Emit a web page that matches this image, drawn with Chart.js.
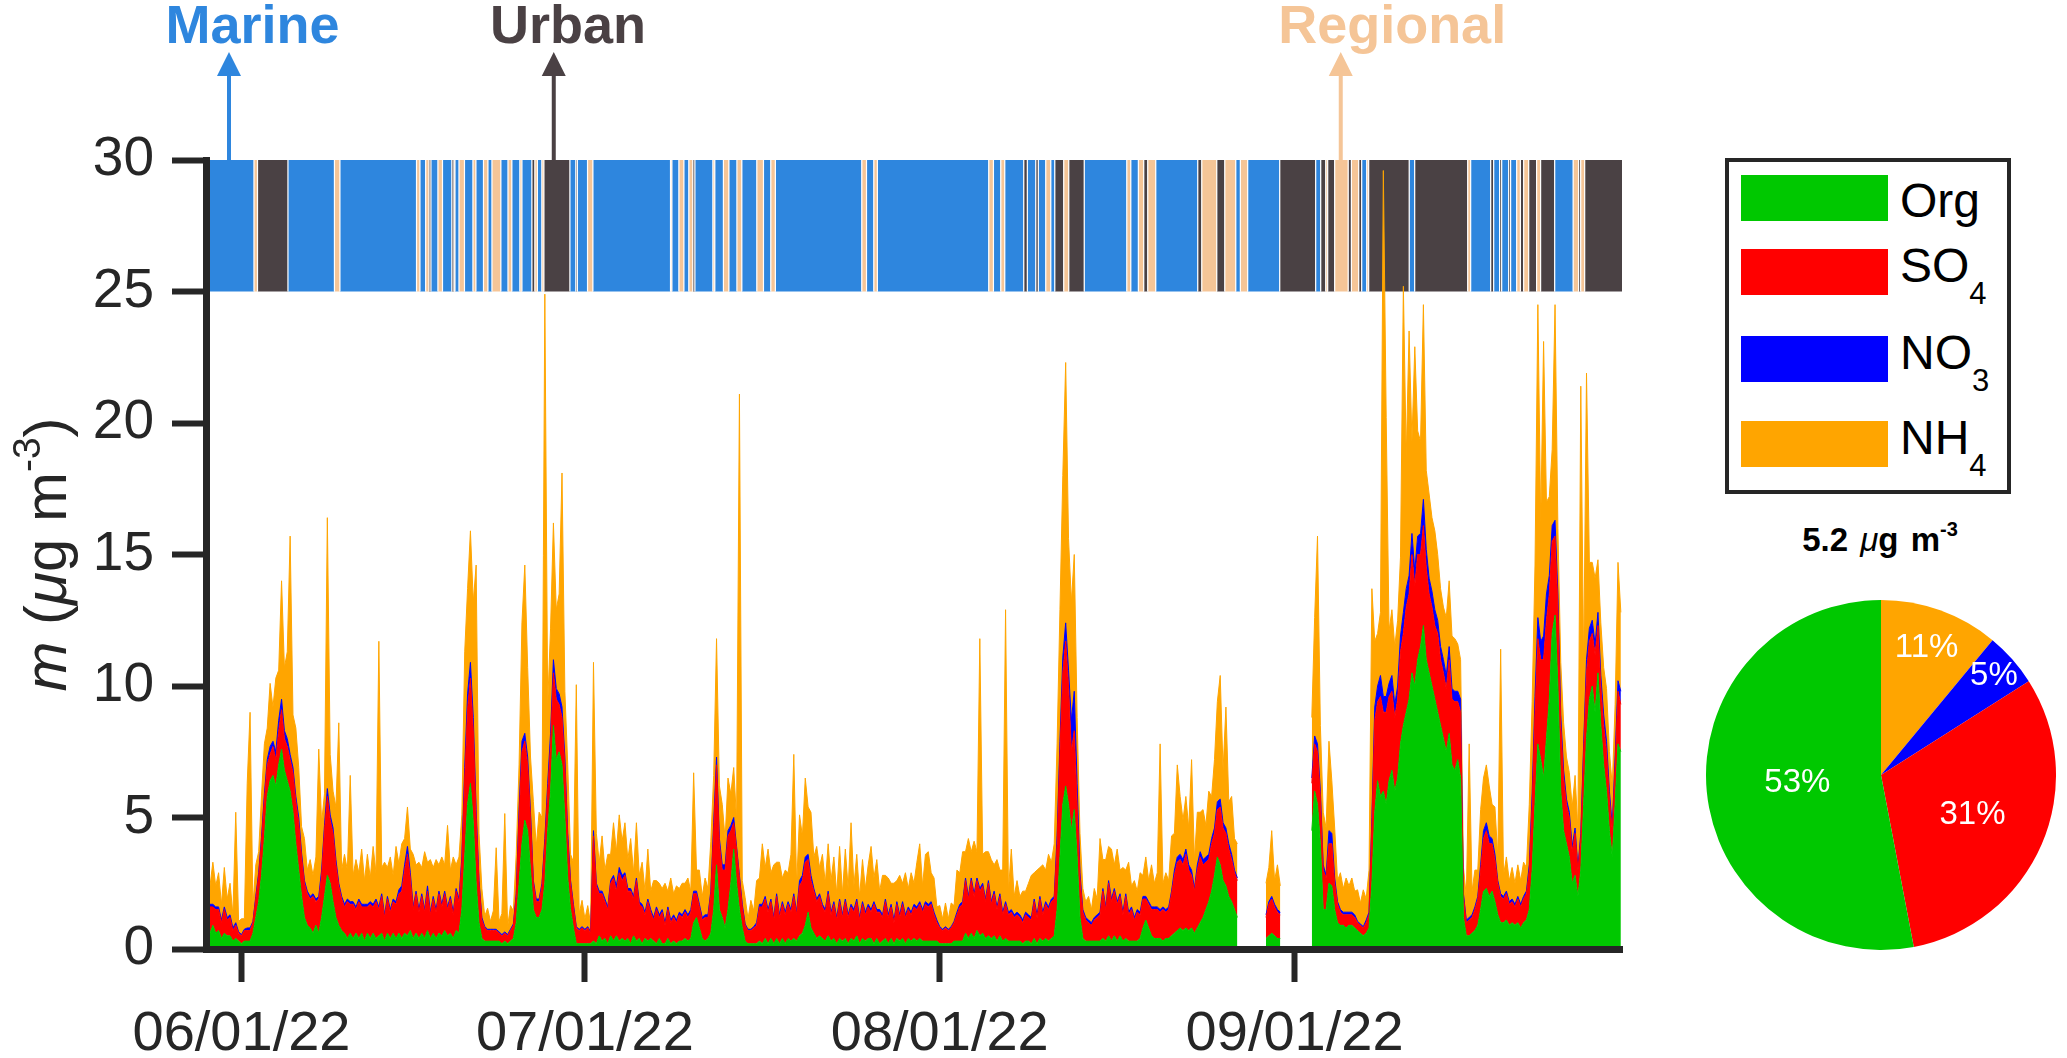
<!DOCTYPE html>
<html>
<head>
<meta charset="utf-8">
<title>Aerosol mass time series</title>
<script src="https://cdn.jsdelivr.net/npm/chart.js@4.4.0/dist/chart.umd.min.js"></script>
<style>
    body { margin: 0; background: #fff; font-family: "Liberation Sans", Arial, sans-serif; }
    #page { position: relative; width: 2067px; height: 1058px; overflow: hidden; background: #fff; }
    #mainWrap { position: absolute; left: 0; top: 0; width: 1680px; height: 1058px; }
    #pieWrap { position: absolute; left: 1706px; top: 600px; width: 350px; height: 350px; }
    #legend { position: absolute; left: 1725px; top: 158px; width: 286px; height: 336px;
              border: 4px solid #262626; box-sizing: border-box; }
    .sw { position: absolute; left: 12px; width: 147px; height: 46px; }
    .lb { position: absolute; left: 171px; font-size: 48px; line-height: 1; color: #000; white-space: nowrap; }
    .lb sub { font-size: 31px; vertical-align: -22px; line-height: 0; }
    #pieTitle { position: absolute; left: 1730px; width: 300px; top: 523px; text-align: center;
                font-weight: bold; font-size: 33px; line-height: 1; color: #000; word-spacing: 3px; }
    #pieTitle i { font-weight: normal; }
    #pieTitle sup { font-size: 20px; vertical-align: 15px; line-height: 0; }
</style>
</head>
<body>
<div id="page">
    <div id="mainWrap"><canvas id="mainChart" width="1680" height="1058"></canvas></div>
    <div id="legend"></div>
    <div id="pieTitle"></div>
    <div id="pieWrap"><canvas id="pieChart" width="350" height="350"></canvas></div>
</div>
<script>
// Six-hourly samples, first one 2022-05-29 00:00, time counted in days from 2022-06-01
const startDay = -3;
const stepDay = 0.25;

// Species mass (ug m-3), two days per line
const org = [
    .8,.6,.9,.6, .7,.4,.6,.5,
    .5,.3,.4,.3, .2,.3,.3,.3,
    .6,1.2,1.8,2.8, 4.2,5.8,6.4,6.6,
    6.2,7,7.6,6.8, 6.4,6,5.2,4,
    3,2,1.2,.9, .8,.6,.9,.6,
    1.2,2,2.8,2.5, 1.8,1.2,.9,.7,
    .6,.4,.6,.4, .6,.4,.6,.3,
    .6,.4,.6,.4, .5,.6,.3,.6,
    .4,.6,.4,.6, .4,.6,.5,.7,
    .4,.6,.4,.6, .4,.7,.4,.6,
    .4,.6,.5,.7, .5,.6,.4,.7,
    .6,1.5,3.5,5.5, 6.3,4.8,2.5,1,
    .4,.3,.3,.3, .3,.3,.3,.2,
    .3,.2,.3,.4, 1,2.5,4,4.9,
    4.5,3,1.5,1.2, 1.2,1.5,2.5,4.5,
    6,8.5,7.2,7.5, 7,5,2.7,1.5,
    .8,.2,.2,.2, .2,.2,.2,.3,
    .2,.5,.3,.4, .2,.5,.3,.5,
    .3,.4,.3,.4, .2,.5,.3,.4,
    .2,.4,.3,.4, .3,.2,.4,.2,
    .2,.4,.2,.3, .2,.3,.3,.4,
    .3,.4,1,1.2, .8,.4,.3,.4,
    .6,1.5,3.2,1.5, 1.2,.8,1.5,2.5,
    3.8,2.5,1.5,.8, .3,.2,.2,.2,
    .2,.3,.2,.4, .2,.4,.2,.4,
    .2,.4,.2,.4, .3,.4,.3,.5,
    .6,.9,1.4,.8, .6,.4,.5,.4,
    .3,.5,.3,.4, .2,.4,.3,.4,
    .2,.4,.3,.5, .2,.4,.3,.4,
    .4,.2,.4,.2, .3,.4,.2,.4,
    .2,.4,.3,.4, .2,.4,.3,.4,
    .3,.4,.3,.3, .3,.3,.3,.3,
    .2,.2,.2,.2, .2,.3,.3,.3,
    .3,.6,.4,.6, .4,.7,.5,.6,
    .4,.5,.4,.5, .3,.5,.3,.4,
    .3,.3,.3,.3, .3,.2,.3,.3,
    .2,.4,.2,.4, .3,.4,.3,.4,
    .5,1.5,3.5,5.5, 6.2,5.5,4.5,5.3,
    3.5,1.2,.4,.3, .3,.3,.3,.3,
    .3,.4,.3,.5, .3,.5,.3,.5,
    .3,.4,.3,.3, .3,.3,.4,.8,
    1.1,.8,.5,.4, .4,.4,.3,.4,
    .4,.5,.6,.7, .8,.7,.8,.7,
    .8,.6,.8,1, 1.2,1.5,1.8,2.2,
    2.8,3.5,3.2,2.6, 2.4,2,1.8,1.5,
    1.2,null,null,null, null,null,null,null,
    null,null,.4,.5, .6,.5,.4,.4,
    null,null,null,null, null,null,null,null,
    null,null,4.5,6, 5.5,4,1.5,1.5,
    2.5,2.4,1.5,1, .9,.9,.8,.9,
    .9,.8,.7,.6, .5,.6,.8,2.5,
    5.2,6.4,5.8,6, 5.5,6.4,6.8,6,
    6.5,7.8,8.5,9, 9.5,10.5,10,11,
    11.5,12.3,11,10.5, 10,9.5,9,8.5,
    8,7.5,8.2,7, 6.8,7.2,6.5,1.2,
    .5,.5,.6,.7, .9,1.5,2.2,2.3,
    2,2.2,1.8,1.3, 1,1,1.1,.9,
    1,.9,1,.8, 1,1.1,1.5,3,
    5.5,7.8,7.2,6.5, 8,9.5,12,12.7,
    10,6,4.5,4, 3.5,2.5,2.8,2,
    3,5.5,8,9.5, 10,9,10.5,8.5,
    7,6,4.5,3.5, 5.5,7.8,7.5
];

const so4 = [
    .8,1,.7,.9, .8,.6,.9,.6,
    .7,.4,.5,.3, .3,.4,.4,.4,
    .4,.7,1,1.3, 1.5,1.2,1,1.1,
    1,1.3,1.5,1.2, 1.3,1.2,1.5,1.6,
    1.8,1.5,1.3,1.2, 1.1,1.4,.9,1.3,
    1.6,2.5,3,2.4, 2.6,2,1.5,1.2,
    1,1.4,1.1,1.3, .9,1.4,1,1.3,
    1,1.3,1,1.4, 1,1.4,.9,1.3,
    1,1.2,1.3,1.5, 1.8,2.4,3.1,2,
    1.1,1.5,1,1.4, 1,1.5,.9,1.3,
    1,1.5,1.1,1.4, 1,1.3,.9,1.5,
    1.2,1.8,3,3.6, 4,3.5,2.5,1.5,
    .7,.5,.4,.4, .4,.4,.3,.3,
    .3,.3,.4,.5, 1,2.5,3.5,3,
    2.5,2,1,.6, .6,.9,1.5,1.5,
    1.8,2,2.3,1.8, 1.8,2,1.5,1,
    .8,.6,.5,.6, .5,.6,.4,4,
    2.2,1.6,1.8,1.4, 1.3,2,2.4,1.7,
    2.6,2.2,2.5,1.8, 2,1.4,2.3,1.3,
    1.4,.9,1.5,1, .8,1.3,.8,1.2,
    .7,1.1,.8,.9, .8,1,.9,1,
    .9,1,1.1,.9, .8,.7,.9,.8,
    1.5,3,3.8,2.5, 1.8,2.2,2.8,2,
    1,1.3,1.2,.8, .6,.5,.5,.6,
    .7,1.3,1.4,1.5, 1.2,1.4,.9,1.6,
    1,1.3,1.1,1.3, 1.1,1.6,1,1.9,
    2,2.4,2,1.8, 1.6,1.4,1.5,1.2,
    1.1,1.6,1,1.3, .9,1.4,.9,1.4,
    1,1.2,1.1,1.3, .9,1.3,1,1.2,
    1,1.5,1,1.2, .9,1.4,1,1.2,
    .8,1.3,.9,1.3, 1,1.1,1,1.2,
    1.2,1.3,1.1,1.4, 1.3,1.4,1,.7,
    .6,.5,.6,.5, .6,.7,1,1.3,
    1.4,2,1.5,2, 1.6,1.9,1.7,1.8,
    1.4,2,1.3,1.6, 1.2,1.5,1,1.3,
    1,1.1,.9,1, .9,.8,1,.9,
    .9,1.4,1,1.5, 1,1.3,1.2,1.4,
    1.4,2.5,4,5, 5.5,4.5,3,3,
    2,1.5,1,.8, .7,.6,.8,.9,
    1,1.8,1.2,2, 1.5,1.7,1.4,1.5,
    1,1.6,1,1.2, .8,1.1,.9,1.1,
    .8,.9,1,1.1, 1.1,1,1.2,1,
    1.1,1.6,2.2,2.6, 2.6,2.5,2.8,2.3,
    2,1.6,2.2,2.5, 2,1.8,1.6,1.8,
    1.6,1.8,2.2,2, 2,1.8,1.6,1.4,
    1.4,null,null,null, null,null,null,null,
    null,null,.8,1.2, 1.3,1.1,1,.9,
    null,null,null,null, null,null,null,null,
    null,null,1.8,1.8, 2,1.8,1.5,1.2,
    1.5,1.6,1,.7, .5,.4,.5,.4,
    .4,.4,.3,.3, .3,.4,.5,2.2,
    3.5,3,3.8,3, 3.5,3.2,3,2.8,
    3,3.5,3.5,4, 4,4.5,3.8,4,
    3.5,3.8,3.5,3, 3,2.8,3,2.5,
    2.5,2.4,2.8,2.5, 2.6,2.2,2.5,.8,
    .5,.6,.6,.8, 1,1.5,2,2.2,
    2,1.8,1.6,1.2, 1,.9,1,.8,
    .8,.7,.9,.8, .9,1,1.5,2.5,
    3.5,4,3.8,4.5, 4.5,4,3.5,3,
    3,2.5,2,1.5, 1.5,1.2,1.6,1,
    1.2,2,2.5,2.2, 2,2.2,1.8,1.5,
    1.5,1.5,1.2,1, 1.5,2,1.8
];

const no3 = [
    .1,.1,.1,.1, .1,.1,.1,.1,
    .1,.1,.1,.05, .05,.05,.1,.1,
    .05,.1,.1,.15, .2,.2,.3,.2,
    .3,.4,.4,.3, .3,.2,.2,.2,
    .2,.15,.1,.1, .1,.1,.1,.1,
    .2,.2,.3,.2, .2,.2,.1,.1,
    .1,.1,.1,.1, .1,.1,.1,.1,
    .1,.1,.1,.1, .1,.1,.1,.1,
    .1,.1,.1,.15, .2,.2,.3,.2,
    .1,.1,.1,.1, .1,.2,.1,.1,
    .1,.1,.1,.1, .1,.1,.1,.1,
    .1,.2,.4,.6, .6,.5,.3,.1,
    .1,.05,.05,.05, .05,.05,.05,.05,
    .05,.05,.05,.05, .1,.3,.4,.3,
    .3,.2,.1,.1, .1,.1,.2,.3,
    .4,.5,.4,.4, .4,.3,.2,.1,
    .1,.05,.05,.05, .05,.05,.05,.2,
    .1,.1,.1,.1, .1,.1,.1,.2,
    .2,.2,.1,.1, .1,.1,.1,.1,
    .1,.1,.1,.1, .1,.1,.1,.1,
    .1,.1,.1,.1, .1,.1,.1,.1,
    .1,.1,.1,.1, .1,.1,.1,.1,
    .1,.3,.3,.2, .2,.2,.2,.2,
    .2,.1,.1,.1, .05,.05,.05,.05,
    .1,.1,.1,.1, .1,.1,.1,.1,
    .1,.1,.1,.1, .1,.1,.1,.2,
    .2,.2,.2,.2, .1,.1,.1,.1,
    .1,.1,.1,.1, .1,.1,.1,.1,
    .1,.1,.1,.1, .1,.1,.1,.1,
    .1,.1,.1,.1, .1,.1,.1,.1,
    .1,.1,.1,.1, .1,.1,.1,.1,
    .1,.1,.1,.1, .1,.1,.1,.1,
    .05,.05,.05,.05, .05,.05,.1,.1,
    .1,.1,.1,.1, .1,.1,.1,.1,
    .1,.1,.1,.1, .1,.1,.1,.1,
    .1,.1,.1,.1, .1,.1,.1,.1,
    .1,.1,.1,.1, .1,.1,.1,.1,
    .1,.3,.4,.6, .7,.6,1.2,1.5,
    .8,.2,.1,.1, .1,.1,.1,.1,
    .1,.1,.1,.1, .1,.1,.1,.1,
    .1,.1,.1,.1, .1,.1,.1,.1,
    .1,.1,.1,.1, .1,.1,.1,.1,
    .1,.1,.2,.2, .2,.2,.2,.2,
    .2,.1,.2,.2, .2,.2,.2,.2,
    .2,.3,.3,.2, .2,.2,.2,.1,
    .1,null,null,null, null,null,null,null,
    null,null,.1,.1, .1,.1,.1,.1,
    null,null,null,null, null,null,null,null,
    null,null,.2,.3, .3,.2,.2,.1,
    .5,.4,.2,.1, .1,.1,.1,.1,
    .1,.1,.05,.05, .05,.1,.1,.3,
    .5,.6,.8,.6, .6,.5,.6,.5,
    .5,.6,.8,.7, .7,.8,.6,.7,
    .8,1,.7,.6, .6,.6,.5,.5,
    .5,.5,.5,.4, .4,.4,.5,.1,
    .1,.1,.1,.1, .1,.2,.3,.3,
    .3,.2,.2,.1, .1,.1,.1,.1,
    .1,.1,.1,.1, .1,.1,.2,.4,
    .6,.8,.7,.9, 1,.7,.6,.6,
    .5,.4,.3,.2, .2,.2,.2,.1,
    .2,.3,.5,.5, .5,.4,.5,.4,
    .4,.4,.3,.2, .3,.4,.5
];

const nh4 = [
    1.4,.7,1.6,.8, 1.3,.6,1.5,.7,
    1.2,.5,4.2,.4, .6,.4,5.5,8.2,
    .6,1.2,.8,1.6, 1.9,1.2,2.4,1.3,
    2.8,1.9,4.5,2.4, 3.3,8.3,2,2.6,
    1.9,1,1.6,.8, 1.4,.7,1.6,5.6,
    1.8,1.2,10.3,2.3, 1.4,2,6.1,1,
    1.9,1.1,4.8,1, 1.8,1,2.1,.9,
    1.9,.9,2.2,1, 10.1,1,2,1.1,
    2,.9,2.1,1, 1.6,1,1.5,.9,
    2,1,1.8,1, 2.2,.9,2,1.1,
    1.9,1,1.8,1, 3.1,1,2.1,.9,
    1.6,1.6,4.4,4, 5,4.4,9.3,1.8,
    1.1,.4,.8,.3, .7,3.1,.4,.8,
    4.5,.3,.9,.5, 1.5,1.7,4.5,6.4,
    3.4,2.1,3,2, 3.3,2.5,20.7,3,
    4,5.2,3,3.8, 8.9,2.5,2.6,1,
    1.6,9.2,.6,1, .4,.8,.3,6.4,
    1.9,1.1,2.1,1.1, 2,1,2,1.3,
    2,1.3,1.9,1.1, 1.9,.9,2.1,1,
    1.6,.8,1.9,.7, 1.4,1,1.2,.8,
    1.5,.6,1.6,.8, 1.3,.9,1.2,1,
    1.4,.7,4.5,.8, 1.3,.8,1.4,1,
    1.9,1.8,4.5,2, 2.3,1,2,1.2,
    1.9,1,18.3,.9, 1,.4,1.1,.6,
    1.6,1,2.3,1.1, 2.3,1,2,1.2,
    2,.9,1.6,1.1, 2.1,5.3,1,2.5,
    1.5,3,1.8,2.4, 1.2,2,1,1.9,
    1,1.8,1.2,1.7, .9,2,.8,1.9,
    1,3.1,.9,1.7, .8,1.6,.9,1.5,
    2.4,.9,1.9,.7, 1.5,.9,1.4,.8,
    1.4,.8,1.5,.7, 1.6,.7,1.5,.8,
    1.7,2.2,.9,1.8, 2,1.1,1.3,.5,
    .8,.4,.9,.4, .9,.6,1.6,1.2,
    1.9,1,2.2,1, 2,1,9.5,1.1,
    1.8,1.1,1.6,1, 1.8,.9,1.6,11.1,
    .8,2.3,.7,1.2, .7,1.1,.8,1.2,
    1.6,1,1.7,1.1, 1.8,1.2,2,1.4,
    2,3.5,5,6.9, 9.9,5,4.5,5.2,
    2.5,1.5,.8,.6, .9,.5,1.1,.6,
    2.8,1.1,1.8,1.3, 1.9,.9,2,.9,
    1.7,.9,1.9,.8, 1.4,.7,1.5,.8,
    1.5,.8,1.6,.9, 1.3,6.3,.9,1.4,
    1,2.1,1.4,3.5, 2.2,1.5,2,1.4,
    4.2,1.1,2,1.5, 1.9,1.2,2.4,1.6,
    2.6,3.8,4.7,2, 4.6,1.6,2.2,1.2,
    1.3,null,null,null, null,null,null,null,
    null,null,1.2,1.3, 2.5,.9,1.7,1,
    null,null,null,null, null,null,null,null,
    null,null,2.3,4.5, 7.9,2.5,2,1.8,
    3.4,2,1.9,.8, 1.4,.9,1.3,1,
    1.3,.9,1.2,.8, 1.4,.8,1.6,8.7,
    2.5,2,2.4,20, 10.6,2,2.5,2.2,
    2.5,3,12.4,5, 9.3,3.5,8.5,4,
    3.5,7.4,3,3.2, 2.8,3,2.5,2.2,
    2,2.2,2.5,2, 2,1.8,1.5,1,
    .9,6.6,.9,1.4, 1,2.1,2,2.2,
    1.9,1.3,1.8,.9, 9.3,.8,1.3,.8,
    1.2,.8,1.2,.9, 1.3,.9,2.3,3.5,
    5,11.9,4.5,11.2, 3.5,3,2.9,8.2,
    2.5,2,1.8,1.6, 1.5,1.5,2,1.4,
    17,3,10.9,2.5, 2.2,2.5,2,2,
    1.8,2,1.5,1.5, 2,4.5,3
];

const seriesNames = ['Org', 'SO4', 'NO3', 'NH4'];

// Air-mass type over time (M = Marine, U = Urban, R = Regional), segment start days
const bandStart = [
    -3.1, 1.09, 1.40, 4.06, 8.12, 8.60, 15.29, 15.59, 16.09, 16.38,
    16.55, 17.16, 17.56, 18.38, 18.56, 18.65, 19.00, 19.48, 20.22, 20.48,
    21.14, 21.53, 21.88, 22.66, 23.28, 23.62, 24.32, 24.50, 25.37, 25.63,
    25.85, 26.24, 26.42, 28.69, 29.21, 29.34, 30.23, 30.70, 37.48, 37.60,
    38.21, 38.65, 39.08, 39.43, 39.61, 41.18, 41.35, 42.10, 42.58, 43.28,
    43.71, 45.02, 45.60, 46.24, 46.64, 54.19, 54.60, 55.24, 55.55, 65.28,
    65.69, 66.33, 66.68, 68.34, 68.65, 69.39, 69.61, 70.26, 70.70, 71.05,
    71.83, 72.27, 73.62, 77.34, 77.69, 78.35, 78.82, 79.17, 79.87, 83.54,
    83.89, 85.20, 85.90, 86.86, 87.26, 87.90, 90.70, 93.84, 94.28, 94.72,
    94.89, 95.50, 96.68, 96.96, 97.60, 97.86, 98.30, 98.47, 102.01, 102.49,
    107.12, 107.38, 109.13, 109.39, 109.91, 110.09, 110.70, 110.87, 111.40, 111.72,
    112.01, 112.45, 113.14, 113.49, 114.72, 116.33, 116.81, 116.99, 117.34
];
const bandType = ('MRUMRMRMRU MRMURMRMRM RMRMRMRMUR MRUMUMRMRM RMRUMRMRMR ' +
                  'MRMRMRMRMR MRMUMUMRMU RUMRMRURMU RURMRMUMUR URURUMRUMU ' +
                  'RMUMUMUMRU RURUMRURU').replace(/ /g, '').split('');
const bandEnd = 120.6;
const bandCodes = ['M', 'U', 'R'];
const bandNames = ['Marine', 'Urban', 'Regional'];

// x axis
const tickDays = [0, 30, 61, 92];
const tickLabels = ['06/01/22', '07/01/22', '08/01/22', '09/01/22'];

// Campaign mean composition
const pieShare = [53, 31, 5, 11];
const pieTotal = 5.2;

// ---- styles ----
const FONT = '"Liberation Sans", Arial, sans-serif';
const INK = '#262626';
const seriesColors = ['#00C800', '#FF0000', '#0000FF', '#FFA500'];
const bandColors = ['#2E86DE', '#4A4144', '#F5C597'];
const noteArrowDay = [-1.09, 27.28, 96.03];
const noteTextDay = [0.96, 28.52, 100.52];
const pieLabelRadius = [0.48, 0.57, 0.86, 0.77];

Chart.defaults.font.family = FONT;

// Cumulative tops for the stacked areas
const times = org.map((_, i) => startDay + i * stepDay);
const series = [org, so4, no3, nh4];
const cumulative = [];
let running = times.map(() => 0);
series.forEach(s => {
    running = s.map((v, i) => (v === null || running[i] === null) ? null : running[i] + v);
    cumulative.push(running);
});

const areaDatasets = seriesNames.map((name, k) => ({
    label: name,
    data: times.map((t, i) => ({ x: t, y: cumulative[k][i] })),
    borderColor: seriesColors[k],
    backgroundColor: seriesColors[k],
    borderWidth: 1,
    pointRadius: 0,
    tension: 0,
    fill: k === 0 ? 'origin' : '-1'
}));

const bandDatasets = bandCodes.map((code, c) => {
    const pts = [];
    bandStart.forEach((s, i) => {
        if (bandType[i] !== code) return;
        const e = i + 1 < bandStart.length ? bandStart[i + 1] : bandEnd;
        pts.push({ x: s, y: 30 }, { x: e, y: 30 }, { x: e, y: null });
    });
    return {
        label: bandNames[c],
        data: pts,
        borderColor: 'rgba(0,0,0,0)',
        borderWidth: 0,
        backgroundColor: bandColors[c],
        pointRadius: 0,
        fill: { value: 25 }
    };
});

// thin white seams between air-mass segments
const bandSeams = {
    id: 'bandSeams',
    afterDatasetDraw(chart, args) {
        if (args.index !== seriesNames.length) return;
        const { ctx, scales: { x, y } } = chart;
        const y0 = y.getPixelForValue(30), y1 = y.getPixelForValue(25);
        ctx.save();
        ctx.strokeStyle = '#fff';
        ctx.lineWidth = 1.2;
        bandStart.slice(1).forEach(s => {
            const px = x.getPixelForValue(s);
            ctx.beginPath();
            ctx.moveTo(px, y0);
            ctx.lineTo(px, y1);
            ctx.stroke();
        });
        ctx.restore();
    }
};

// Marine / Urban / Regional arrows above the band
const notes = {
    id: 'notes',
    afterDraw(chart) {
        const { ctx, scales: { x, y } } = chart;
        const yTop = y.getPixelForValue(30);
        bandNames.forEach((name, i) => {
            const ax = x.getPixelForValue(noteArrowDay[i]);
            ctx.save();
            ctx.strokeStyle = bandColors[i];
            ctx.fillStyle = bandColors[i];
            ctx.lineWidth = 4;
            ctx.beginPath();
            ctx.moveTo(ax, yTop);
            ctx.lineTo(ax, 72);
            ctx.stroke();
            ctx.beginPath();
            ctx.moveTo(ax, 52);
            ctx.lineTo(ax - 12, 76);
            ctx.lineTo(ax + 12, 76);
            ctx.closePath();
            ctx.fill();
            ctx.font = 'bold 54px ' + FONT;
            ctx.textAlign = 'center';
            ctx.textBaseline = 'alphabetic';
            ctx.fillText(name, x.getPixelForValue(noteTextDay[i]), 43);
            ctx.restore();
        });
    }
};

// y axis title: m (ug m-3)
const yTitle = {
    id: 'yTitle',
    afterDraw(chart) {
        const ctx = chart.ctx;
        const parts = [
            { t: 'm', f: 'italic 60px ' + FONT },
            { t: ' (', f: '60px ' + FONT },
            { t: 'μ', f: 'italic 60px ' + FONT },
            { t: 'g m', f: '60px ' + FONT },
            { t: '-3', f: '39px ' + FONT, up: 26 },
            { t: ')', f: '60px ' + FONT }
        ];
        ctx.save();
        let total = 0;
        parts.forEach(p => { ctx.font = p.f; p.w = ctx.measureText(p.t).width; total += p.w; });
        const { top, bottom } = chart.chartArea;
        ctx.translate(66, (top + bottom) / 2);
        ctx.rotate(-Math.PI / 2);
        ctx.fillStyle = INK;
        ctx.textBaseline = 'alphabetic';
        let pos = -total / 2;
        parts.forEach(p => {
            ctx.font = p.f;
            ctx.fillText(p.t, pos, -(p.up || 0));
            pos += p.w;
        });
        ctx.restore();
    }
};

new Chart(document.getElementById('mainChart'), {
    type: 'line',
    data: { datasets: areaDatasets.concat(bandDatasets) },
    options: {
        animation: false,
        responsive: false,
        layout: { padding: { top: 160, right: 58, left: 0, bottom: 0 } },
        plugins: { legend: { display: false }, tooltip: { enabled: false } },
        scales: {
            x: {
                type: 'linear',
                min: -3.1,
                max: 120.6,
                afterBuildTicks: scale => { scale.ticks = tickDays.map(v => ({ value: v })); },
                afterFit: scale => { scale.height = 109; },
                ticks: {
                    callback: v => tickLabels[tickDays.indexOf(v)] || '',
                    font: { size: 56 },
                    color: INK,
                    padding: 19,
                    maxRotation: 0,
                    autoSkip: false
                },
                grid: { drawOnChartArea: false, tickLength: 33, tickWidth: 6, tickColor: INK, color: INK },
                border: { display: true, width: 7, color: INK, z: 1 }
            },
            y: {
                min: 0,
                max: 30,
                afterFit: scale => { scale.width = 206; },
                ticks: { stepSize: 5, font: { size: 55 }, color: INK, padding: 18 },
                grid: { drawOnChartArea: false, tickLength: 34, tickWidth: 6, tickColor: INK, color: INK },
                border: { display: true, width: 7, color: INK, z: 1 }
            }
        }
    },
    plugins: [bandSeams, notes, yTitle]
});

// ---- legend ----
const legendRowTop = [13, 87, 174, 259];
const legend = document.getElementById('legend');
seriesNames.forEach((name, k) => {
    const sw = document.createElement('div');
    sw.className = 'sw';
    sw.style.top = legendRowTop[k] + 'px';
    sw.style.background = seriesColors[k];
    legend.appendChild(sw);
    const lb = document.createElement('div');
    lb.className = 'lb';
    const m = name.match(/^(\D+)(\d*)$/);
    lb.innerHTML = m[1] + (m[2] ? '<sub>' + m[2] + '</sub>' : '');
    lb.style.top = (legendRowTop[k] + (m[2] ? -7 : 2)) + 'px';
    legend.appendChild(lb);
});

// ---- pie ----
document.getElementById('pieTitle').innerHTML = pieTotal.toFixed(1) + ' <i>μ</i>g m<sup>-3</sup>';

const pieOrder = [3, 2, 1, 0];  // clockwise from top: NH4, NO3, SO4, Org
const pieLabels = {
    id: 'pieLabels',
    afterDatasetsDraw(chart) {
        const { ctx } = chart;
        const meta = chart.getDatasetMeta(0);
        ctx.save();
        ctx.fillStyle = '#fff';
        ctx.font = '33px ' + FONT;
        ctx.textAlign = 'center';
        ctx.textBaseline = 'middle';
        meta.data.forEach((arc, i) => {
            const { startAngle, endAngle, outerRadius, x, y } = arc.getProps(['startAngle', 'endAngle', 'outerRadius', 'x', 'y'], true);
            const mid = (startAngle + endAngle) / 2;
            const r = outerRadius * pieLabelRadius[pieOrder[i]];
            ctx.fillText(chart.data.datasets[0].data[i] + '%', x + Math.cos(mid) * r, y + Math.sin(mid) * r);
        });
        ctx.restore();
    }
};

new Chart(document.getElementById('pieChart'), {
    type: 'pie',
    data: {
        labels: pieOrder.map(k => seriesNames[k]),
        datasets: [{
            data: pieOrder.map(k => pieShare[k]),
            backgroundColor: pieOrder.map(k => seriesColors[k]),
            borderWidth: 0
        }]
    },
    options: {
        animation: false,
        responsive: false,
        layout: { padding: 0 },
        plugins: { legend: { display: false }, tooltip: { enabled: false } }
    },
    plugins: [pieLabels]
});
</script>
</body>
</html>
